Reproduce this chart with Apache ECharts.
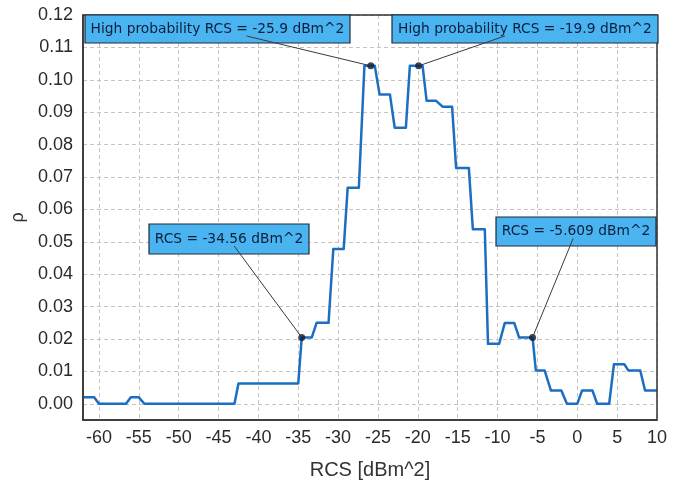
<!DOCTYPE html>
<html><head><meta charset="utf-8">
<script src="https://cdn.jsdelivr.net/npm/echarts@6/dist/echarts.min.js"></script>
<style>html,body{margin:0;padding:0;background:#fff}#c{width:684px;height:486px}</style>
</head><body><div id="c"></div>
<script>
// ---- data ----
const rcs = [-62,-60.6,-60,-56.6,-56,-55,-54.3,-43,-42.5,-35,-34.56,-33.3,-32.7,-31.2,-30.6,-29.3,-28.8,-27.4,-26.7,-25.9,-25.4,-24.8,-23.5,-22.9,-21.5,-21.0,-19.9,-19.4,-18.9,-17.7,-16.9,-15.7,-15.2,-13.6,-13.1,-11.6,-11.2,-9.8,-9.1,-7.9,-7.3,-5.609,-5.2,-4.1,-3.3,-2.0,-1.3,0,0.6,1.9,2.5,4.0,4.6,5.9,6.4,7.9,8.5,10];
const rho = [0.002,0.002,0,0,0.002,0.002,0,0,0.0063,0.0063,0.0205,0.0205,0.025,0.025,0.0478,0.0478,0.0667,0.0667,0.1043,0.1043,0.1043,0.0955,0.0955,0.0852,0.0852,0.1043,0.1043,0.1043,0.0935,0.0935,0.0917,0.0917,0.0728,0.0728,0.0539,0.0539,0.0185,0.0185,0.0249,0.0249,0.0205,0.0205,0.0103,0.0103,0.0041,0.0041,0,0,0.0041,0.0041,0,0,0.0122,0.0122,0.0103,0.0103,0.0041,0.0041];
const xTicks = [-60,-55,-50,-45,-40,-35,-30,-25,-20,-15,-10,-5,0,5,10];
const yTicks = [0,0.01,0.02,0.03,0.04,0.05,0.06,0.07,0.08,0.09,0.10,0.11,0.12];
const markRcs = [-34.56,-25.9,-19.9,-5.609];
const markRho = [0.0205,0.1043,0.1043,0.0205];
const markText = ['RCS = -34.56 dBm^2','High probability RCS = -25.9 dBm^2','High probability RCS = -19.9 dBm^2','RCS = -5.609 dBm^2'];

// ---- layout ----
const boxes = [{x:149,y:224,w:160,h:30},{x:85,y:15,w:265,h:28},{x:392,y:15,w:266,h:28},{x:496,y:217,w:160,h:29}];

const X_MIN = -62, X_MAX = 10, Y_MIN = -0.005, Y_MAX = 0.12;
const chart = echarts.init(document.getElementById('c'), null, {renderer:'canvas'});
const font = 'Liberation Sans';
chart.setOption({
  animation:false,
  backgroundColor:'#fff',
  grid:{left:83,right:27,top:15,bottom:66,show:false},
  xAxis:{type:'value',min:X_MIN,max:X_MAX,
    name:'RCS [dBm^2]',nameLocation:'middle',nameGap:40,
    nameTextStyle:{fontFamily:font,fontSize:20,color:'#333'},
    axisLine:{show:true,onZero:false,lineStyle:{color:'#333',width:1.5}},
    axisTick:{show:false,customValues:xTicks},
    axisLabel:{customValues:xTicks,fontFamily:font,fontSize:18,color:'#2a2a2a',margin:9},
    splitLine:{show:true,lineStyle:{color:'#c4c4c4',type:[4,3],width:1}}},
  yAxis:{type:'value',min:Y_MIN,max:Y_MAX,
    name:'ρ',nameLocation:'middle',nameGap:56,nameRotate:90,
    nameTextStyle:{fontFamily:font,fontSize:18,color:'#333'},
    axisLine:{show:true,onZero:false,lineStyle:{color:'#333',width:1.5}},
    axisTick:{show:false,customValues:yTicks},
    axisLabel:{customValues:yTicks,fontFamily:font,fontSize:18,color:'#2a2a2a',margin:10,formatter:v=>v.toFixed(2)},
    splitLine:{show:true,lineStyle:{color:'#c4c4c4',type:[4,3],width:1}}},
  series:[
    {type:'line',data:rcs.map((x,i)=>[x,rho[i]]),showSymbol:false,symbol:'none',
      lineStyle:{color:'#1b6ec2',width:2.5,join:'round'},z:3},
    {type:'scatter',data:markRcs.map((x,i)=>[x,markRho[i]]),symbolSize:7,
      itemStyle:{color:'#0b1a3a'},z:5}
  ]
});

const g = [];
// plot frame
const tl = chart.convertToPixel({gridIndex:0},[X_MIN,Y_MAX]);
const br = chart.convertToPixel({gridIndex:0},[X_MAX,Y_MIN]);
g.push({type:'rect',shape:{x:tl[0],y:tl[1],width:br[0]-tl[0],height:br[1]-tl[1]},
  style:{fill:'none',stroke:'#333',lineWidth:1.5},z:8,silent:true});
boxes.forEach((b,i)=>{
  const p = chart.convertToPixel({seriesIndex:1},[markRcs[i],markRho[i]]);
  const cx = b.x + b.w/2, cy = b.y + b.h/2;
  const dy = p[1]-cy, dx = p[0]-cx;
  const t = 7/Math.abs(dy);
  g.push({type:'rect',shape:{x:b.x,y:b.y,width:b.w,height:b.h},
    style:{fill:'#4ab4f0',stroke:'#1c2a3c',lineWidth:1.2},z:10});
  g.push({type:'line',shape:{x1:cx+dx*t,y1:cy+dy*t,x2:p[0],y2:p[1]},
    style:{stroke:'#3a3a3a',lineWidth:1},z:11});
  g.push({type:'text',x:cx,y:cy,style:{text:markText[i],fill:'#0c1f3f',font:'13.8px DejaVu Sans',align:'center',verticalAlign:'middle'},z:12});
});
chart.setOption({graphic:g});
</script>
</body></html>
